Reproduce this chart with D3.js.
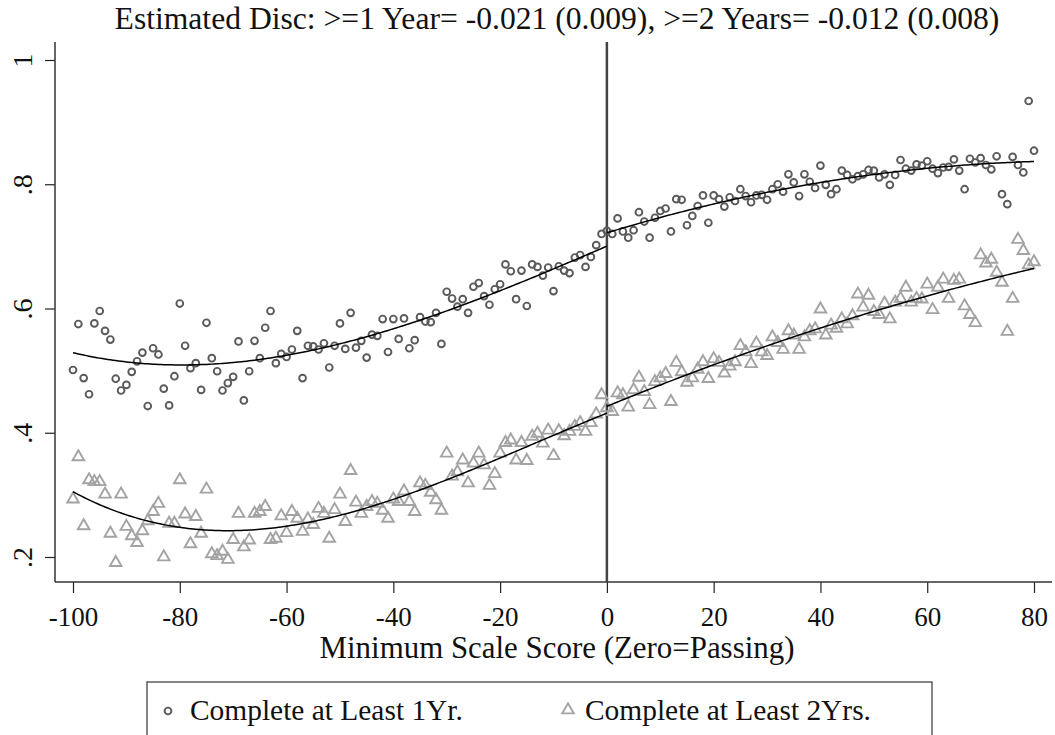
<!DOCTYPE html>
<html>
<head>
<meta charset="utf-8">
<script src="https://cdn.jsdelivr.net/npm/d3@7"></script>
<style>
  body { margin: 0; background: #fff; }
  svg { display: block; font-family: "Liberation Serif", "DejaVu Serif", serif; }
</style>
</head>
<body>
<svg id="chart" width="1055" height="735"></svg>
<script>
// data

var scores = d3.range(-100, 81);

// share completing at least 1 year, score -100 .. 80
var oneYr = [
  0.501, 0.575, 0.488, 0.462, 0.576, 0.596, 0.564, 0.550, 0.487, 0.468,
  0.477, 0.498, 0.515, 0.529, 0.443, 0.536, 0.526, 0.471, 0.444, 0.491,
  0.608, 0.540, 0.504, 0.512, 0.469, 0.577, 0.520, 0.499, 0.468, 0.480,
  0.490, 0.547, 0.452, 0.499, 0.548, 0.520, 0.569, 0.596, 0.512, 0.527,
  0.522, 0.534, 0.564, 0.488, 0.540, 0.539, 0.534, 0.544, 0.505, 0.540,
  0.576, 0.535, 0.593, 0.537, 0.548, 0.521, 0.558, 0.556, 0.583, 0.530,
  0.583, 0.551, 0.584, 0.536, 0.549, 0.586, 0.579, 0.578, 0.593, 0.543,
  0.627, 0.616, 0.603, 0.615, 0.593, 0.635, 0.641, 0.620, 0.606, 0.631,
  0.639, 0.671, 0.660, 0.615, 0.661, 0.604, 0.671, 0.667, 0.653, 0.666,
  0.628, 0.668, 0.661, 0.657, 0.682, 0.686, 0.667, 0.683, 0.702, 0.720,
  0.725, 0.720, 0.745, 0.724, 0.714, 0.726, 0.755, 0.740, 0.714, 0.746,
  0.757, 0.761, 0.724, 0.776, 0.775, 0.734, 0.749, 0.765, 0.782, 0.738,
  0.782, 0.776, 0.764, 0.779, 0.773, 0.792, 0.781, 0.771, 0.782, 0.783,
  0.775, 0.792, 0.800, 0.788, 0.816, 0.803, 0.781, 0.816, 0.804, 0.794,
  0.830, 0.799, 0.784, 0.792, 0.822, 0.815, 0.808, 0.813, 0.816, 0.823,
  0.822, 0.811, 0.816, 0.799, 0.815, 0.839, 0.825, 0.822, 0.832, 0.830,
  0.837, 0.825, 0.818, 0.827, 0.828, 0.840, 0.822, 0.792, 0.841, 0.835,
  0.842, 0.831, 0.824, 0.845, 0.784, 0.768, 0.844, 0.831, 0.819, 0.934, 0.854
];

// share completing at least 2 years
var twoYr = [
  0.293, 0.361, 0.250, 0.324, 0.321, 0.321, 0.301, 0.238, 0.191, 0.301,
  0.249, 0.234, 0.223, 0.242, 0.258, 0.273, 0.286, 0.200, 0.254, 0.254,
  0.324, 0.269, 0.221, 0.265, 0.238, 0.309, 0.205, 0.202, 0.209, 0.196,
  0.228, 0.270, 0.216, 0.227, 0.270, 0.273, 0.281, 0.228, 0.230, 0.266,
  0.239, 0.273, 0.262, 0.241, 0.261, 0.252, 0.278, 0.270, 0.230, 0.276,
  0.301, 0.257, 0.339, 0.288, 0.270, 0.281, 0.289, 0.286, 0.275, 0.262,
  0.293, 0.289, 0.306, 0.289, 0.273, 0.319, 0.315, 0.304, 0.292, 0.275,
  0.367, 0.330, 0.337, 0.356, 0.319, 0.351, 0.367, 0.348, 0.315, 0.334,
  0.367, 0.384, 0.388, 0.356, 0.384, 0.355, 0.394, 0.399, 0.383, 0.404,
  0.363, 0.403, 0.395, 0.402, 0.410, 0.416, 0.402, 0.416, 0.430, 0.461,
  0.440, 0.434, 0.464, 0.461, 0.441, 0.469, 0.489, 0.466, 0.445, 0.482,
  0.488, 0.495, 0.450, 0.513, 0.498, 0.481, 0.488, 0.502, 0.514, 0.487,
  0.519, 0.513, 0.496, 0.507, 0.514, 0.540, 0.530, 0.511, 0.544, 0.530,
  0.524, 0.554, 0.545, 0.534, 0.564, 0.557, 0.534, 0.554, 0.564, 0.567,
  0.599, 0.557, 0.573, 0.568, 0.583, 0.575, 0.588, 0.623, 0.602, 0.621,
  0.595, 0.590, 0.608, 0.583, 0.610, 0.616, 0.634, 0.610, 0.616, 0.615,
  0.639, 0.598, 0.634, 0.647, 0.616, 0.645, 0.647, 0.604, 0.590, 0.577,
  0.686, 0.673, 0.679, 0.658, 0.642, 0.563, 0.616, 0.711, 0.693, 0.670, 0.675
];

var xTicks = [-100, -80, -60, -40, -20, 0, 20, 40, 60, 80];
var yTicks = [0.2, 0.4, 0.6, 0.8, 1];
var seriesNames = ["Complete at Least 1Yr.", "Complete at Least 2Yrs."];
var titleText = "Estimated Disc: >=1 Year= -0.021 (0.009), >=2 Years= -0.012 (0.008)";
var xTitle = "Minimum Scale Score (Zero=Passing)";

// polynomial order of the fit on each side of the cutoff
var fitOrderBelow = 3,
  fitOrderAbove = 2;

// least squares polynomial, returns a function of x
function polyFit(xs, ys, deg) {
  var n = deg + 1, A = [], b = [], i, j, k;
  for (i = 0; i < n; i++) { A.push(new Array(n).fill(0)); b.push(0); }
  xs.forEach(function(x, idx) {
    var t = x / 100, p = [];
    for (i = 0; i < n; i++) p.push(Math.pow(t, i));
    for (i = 0; i < n; i++) {
      b[i] += p[i] * ys[idx];
      for (j = 0; j < n; j++) A[i][j] += p[i] * p[j];
    }
  });
  // gauss elimination
  for (i = 0; i < n; i++) {
    var piv = i;
    for (k = i + 1; k < n; k++) if (Math.abs(A[k][i]) > Math.abs(A[piv][i])) piv = k;
    var tmp = A[i]; A[i] = A[piv]; A[piv] = tmp;
    tmp = b[i]; b[i] = b[piv]; b[piv] = tmp;
    for (k = i + 1; k < n; k++) {
      var f = A[k][i] / A[i][i];
      for (j = i; j < n; j++) A[k][j] -= f * A[i][j];
      b[k] -= f * b[i];
    }
  }
  var c = new Array(n).fill(0);
  for (i = n - 1; i >= 0; i--) {
    var s = b[i];
    for (j = i + 1; j < n; j++) s -= A[i][j] * c[j];
    c[i] = s / A[i][i];
  }
  return function(x) {
    var t = x / 100, v = 0;
    for (var q = 0; q < n; q++) v += c[q] * Math.pow(t, q);
    return v;
  };
}

//main variables
var svg = d3.select("#chart"),
  plotLeft = 55, plotRight = 1052, plotTop = 42, plotBottom = 582,
  circleColor = "#5a5a5a",
  triColor = "#a3a3a3",
  axisColor = "#333";

var x = d3.scaleLinear().domain([-100, 80]).range([73, 1034]);
var y = d3.scaleLinear().domain([0.2, 1]).range([557, 60]);

//-------------------AXES-------------------
var yAxis = svg.append("g")
  .attr("transform", "translate(" + plotLeft + ",0)")
  .call(d3.axisLeft(y).tickValues(yTicks).tickSize(10).tickPadding(0)
    .tickFormat(function(d) { return d === 1 ? "1" : d3.format(".1f")(d).replace(/^0/, ""); }));
yAxis.attr("font-family", null).attr("font-size", null);
yAxis.select(".domain").remove();
yAxis.selectAll(".tick line").attr("stroke", "#222").attr("stroke-width", 1.2);
yAxis.selectAll(".tick text")
  .attr("font-size", 28)
  .attr("fill", "#111")
  .attr("text-anchor", "middle")
  .attr("x", null).attr("dy", null)
  .attr("transform", "translate(-23,0) rotate(-90)");

var xAxis = svg.append("g")
  .attr("transform", "translate(0," + plotBottom + ")")
  .call(d3.axisBottom(x).tickValues(xTicks).tickSize(11).tickPadding(0)
    .tickFormat(function(d) { return String(d); }));
xAxis.attr("font-family", null).attr("font-size", null);
xAxis.select(".domain").remove();
xAxis.selectAll(".tick line").attr("stroke", "#222").attr("stroke-width", 1.2);
xAxis.selectAll(".tick text")
  .attr("font-size", 27)
  .attr("fill", "#111")
  .attr("y", 44).attr("dy", null);

// axis spines
svg.append("line")
  .attr("x1", plotLeft).attr("x2", plotLeft)
  .attr("y1", plotTop).attr("y2", plotBottom)
  .attr("stroke", axisColor).attr("stroke-width", 1.5);
svg.append("line")
  .attr("x1", plotLeft).attr("x2", plotRight)
  .attr("y1", plotBottom).attr("y2", plotBottom)
  .attr("stroke", axisColor).attr("stroke-width", 1.5);

// cutoff line
svg.append("line")
  .attr("x1", x(0)).attr("x2", x(0))
  .attr("y1", plotTop).attr("y2", plotBottom)
  .attr("stroke", "#444").attr("stroke-width", 2.5);

//-------------------POINTS-------------------
svg.append("g").selectAll("circle")
  .data(scores)
  .enter().append("circle")
  .attr("cx", function(d) { return x(d); })
  .attr("cy", function(d, i) { return y(oneYr[i]); })
  .attr("r", 3.4)
  .attr("fill", "none")
  .attr("stroke", circleColor)
  .attr("stroke-width", 1.9);

var tri = d3.symbol().type(d3.symbolTriangle).size(58);
svg.append("g").selectAll("path")
  .data(scores)
  .enter().append("path")
  .attr("d", tri)
  .attr("transform", function(d, i) { return "translate(" + x(d) + "," + y(twoYr[i]) + ")"; })
  .attr("fill", "none")
  .attr("stroke", triColor)
  .attr("stroke-width", 1.9);

//-------------------FIT LINES-------------------
function sideFit(vals, below) {
  var xs = [], ys = [];
  scores.forEach(function(s, i) {
    if ((below && s < 0) || (!below && s >= 0)) { xs.push(s); ys.push(vals[i]); }
  });
  var f = polyFit(xs, ys, below ? fitOrderBelow : fitOrderAbove);
  var grid = below ? d3.range(-100, 0.001, 0.5) : d3.range(0, 80.001, 0.5);
  return grid.map(function(g) { return [g, f(g)]; });
}

var fitLine = d3.line()
  .x(function(d) { return x(d[0]); })
  .y(function(d) { return y(d[1]); });

[oneYr, twoYr].forEach(function(vals) {
  [true, false].forEach(function(below) {
    svg.append("path")
      .attr("d", fitLine(sideFit(vals, below)))
      .attr("fill", "none")
      .attr("stroke", "#000")
      .attr("stroke-width", 1.5);
  });
});

//-------------------TEXTS-------------------
function fitWidth(sel, w) {
  var cur = sel.node().getComputedTextLength();
  sel.attr("font-size", parseFloat(sel.attr("font-size")) * w / cur);
}

var title = svg.append("text")
  .attr("x", 557).attr("y", 29)
  .attr("text-anchor", "middle")
  .attr("font-size", 28)
  .attr("fill", "#111")
  .text(titleText);
fitWidth(title, 885);

var xt = svg.append("text")
  .attr("x", 557).attr("y", 658)
  .attr("text-anchor", "middle")
  .attr("font-size", 28)
  .attr("fill", "#111")
  .text(xTitle);
fitWidth(xt, 475);

//-------------------LEGEND-------------------
svg.append("rect")
  .attr("x", 147).attr("y", 682)
  .attr("width", 785).attr("height", 70)
  .attr("fill", "#fff")
  .attr("stroke", "#333").attr("stroke-width", 1.2);

svg.append("circle")
  .attr("cx", 168).attr("cy", 711).attr("r", 3.4)
  .attr("fill", "none").attr("stroke", circleColor).attr("stroke-width", 1.9);
svg.append("path")
  .attr("d", tri)
  .attr("transform", "translate(568,710)")
  .attr("fill", "none").attr("stroke", triColor).attr("stroke-width", 1.9);

var leg1 = svg.append("text")
  .attr("x", 190).attr("y", 720)
  .attr("font-size", 28).attr("fill", "#111")
  .text(seriesNames[0]);
fitWidth(leg1, 273);
svg.append("text")
  .attr("x", 585).attr("y", 720)
  .attr("font-size", leg1.attr("font-size")).attr("fill", "#111")
  .text(seriesNames[1]);
</script>
</body>
</html>
